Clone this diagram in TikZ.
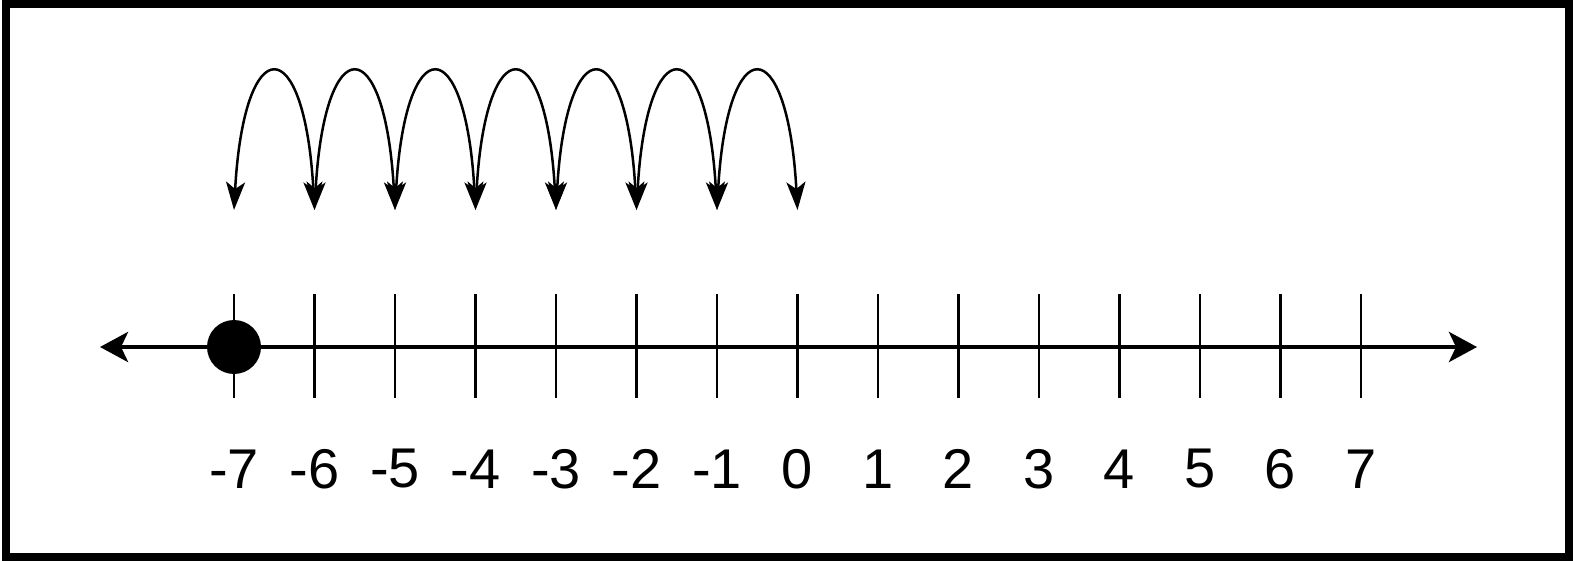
\documentclass[tikz,border=0pt]{standalone}
\usepackage{fontspec}
\setmainfont{Liberation Sans}
\usetikzlibrary{arrows.meta}
\begin{document}
\begin{tikzpicture}[x=1pt,y=-1pt,
  axis/.style={line width=4.5pt,{Stealth[length=28pt,width=30pt,inset=7pt]}-{Stealth[length=28pt,width=30pt,inset=7pt]}},
  tickline/.style={line width=2.5pt},
  hop/.style={line width=2.5pt,{Stealth[length=28pt,width=19pt,inset=7pt]}-{Stealth[length=28pt,width=19pt,inset=7pt]}},
  lbl/.style={font=\fontsize{56}{60}\selectfont, inner sep=0pt},
  dotnode/.style={circle,fill=black,minimum size=54pt,inner sep=0pt},
  frame/.style={line width=8pt}
]
\useasboundingbox (0,0) rectangle (1573,561);
\draw[frame] (6,4) rectangle (1569,557);
\coordinate (L) at (100,347);
\coordinate (R) at (1477,347);
\draw[axis] (L) -- (R);
\foreach \v [count=\i from 0] in {-7,...,7} {
  \pgfmathsetmacro\xx{234+80.5*\i}
  \coordinate (top\i) at (\xx,294);
  \coordinate (bot\i) at (\xx,398);
  \coordinate (a\i) at (\xx,210);
  \draw[tickline] (top\i) -- (bot\i);
  \node[lbl] (lab\i) at (\xx,469) {\v};
}
\node[dotnode] (dot) at (234,347) {};
\foreach \i [evaluate=\i as \j using int(\i+1)] in {0,...,6} {
  \draw[hop] (a\j) .. controls ([shift={(-10,-181)}]a\j) and ([shift={(10,-181)}]a\i) .. (a\i);
}
\end{tikzpicture}
\end{document}
